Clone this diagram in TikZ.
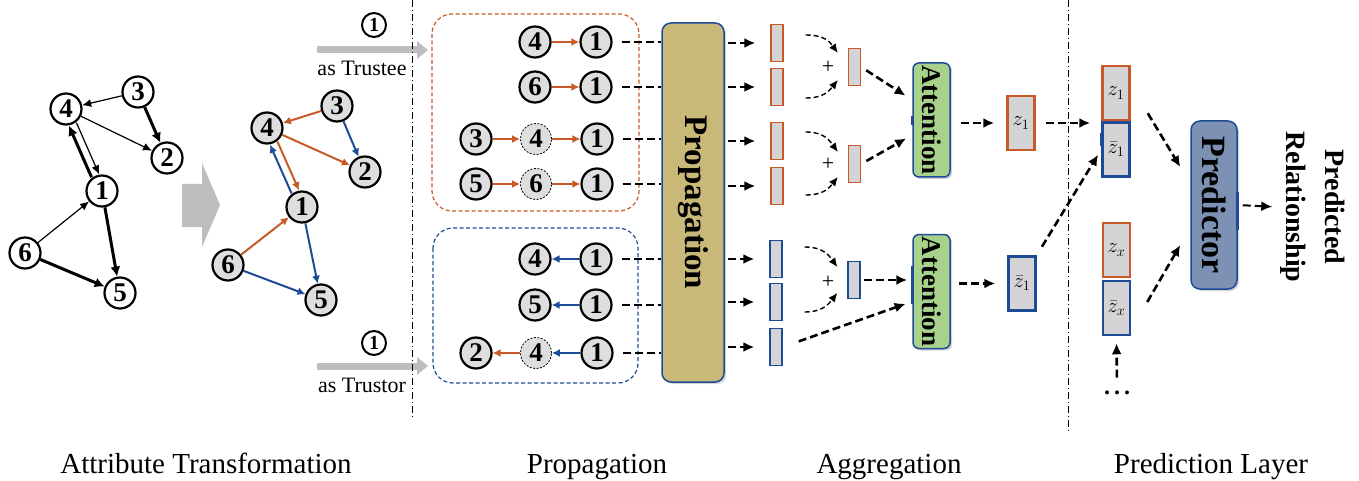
\documentclass[tikz,border=0pt]{standalone}
\usepackage{fontspec}
\setmainfont{Liberation Serif}
\usetikzlibrary{arrows.meta,shadows,calc}
\definecolor{org}{RGB}{200,90,40}
\definecolor{blu}{RGB}{30,75,150}
\definecolor{cellgray}{RGB}{212,212,214}
\definecolor{nodegray}{RGB}{222,222,222}
\definecolor{propfill}{RGB}{200,185,120}
\definecolor{attfill}{RGB}{168,210,140}
\definecolor{predfill}{RGB}{125,145,180}
\definecolor{bigarrow}{RGB}{190,190,192}
\begin{document}
\begin{tikzpicture}[x=1pt,y=-1pt,
  wn/.style={circle,draw,line width=2.2pt,fill=white,minimum size=31pt,inner sep=0pt,font=\fontsize{27}{27}\selectfont\bfseries},
  gn/.style={wn,fill=nodegray},
  dn/.style={circle,draw,dashed,dash pattern=on 2pt off 1.5pt,line width=0.8pt,fill=nodegray,minimum size=31pt,inner sep=0pt,font=\fontsize{27}{27}\selectfont\bfseries},
  thinarr/.style={line width=1.2pt,-{Latex[length=9pt,width=8pt]}},
  thickarr/.style={line width=3pt,-{Latex[length=10pt,width=10pt]}},
  carr/.style={line width=2pt,-{Latex[length=8pt,width=8pt]}},
  dashline/.style={line width=2.6pt,dash pattern=on 8pt off 4pt},
  dasharr/.style={dashline,-{Latex[length=11pt,width=10pt]}},
  curvearr/.style={line width=1.4pt,dash pattern=on 5pt off 3pt,-{Latex[length=9pt,width=8pt]}},
  bar/.style={rectangle,draw,line width=1.3pt,fill=cellgray,minimum width=12pt,minimum height=37pt,inner sep=0pt},
  zbox/.style={rectangle,draw,line width=2.5pt,fill=cellgray,minimum width=27pt,minimum height=54pt,inner sep=0pt,font=\fontsize{20}{20}\selectfont},
  shad/.style={drop shadow={shadow xshift=2pt,shadow yshift=-2pt,opacity=0.35}},
  cnum/.style={circle,draw,line width=2pt,minimum size=24pt,inner sep=0pt,font=\fontsize{20}{20}\selectfont\bfseries},
  grayarr/.style={line width=7pt,bigarrow,-{Triangle[length=11pt,width=17pt]}},
  lbl/.style={font=\fontsize{29}{29}\selectfont,anchor=base},
  dashdot/.style={line width=0.8pt,dash pattern=on 7pt off 3pt on 1pt off 3pt}
]
\useasboundingbox (0,0) rectangle (1359,481);

% ---------------- left graph ----------------
\node[wn] (l4) at (66,109) {4};
\node[wn] (l3) at (138,92) {3};
\node[wn] (l2) at (167,158) {2};
\node[wn] (l1) at (102,191) {1};
\node[wn] (l6) at (25,253) {6};
\node[wn] (l5) at (120,293) {5};
\draw[thinarr] (l3) -- (l4);
\draw[thickarr] (l3) -- (l2);
\draw[thinarr] (l4) -- (l2);
\draw[thinarr,transform canvas={shift={(3.8,-1.4)}}] (l4) -- (l1);
\draw[thickarr,transform canvas={shift={(-3.8,1.4)}}] (l1) -- (l4);
\draw[thinarr] (l6) -- (l1);
\draw[thickarr] (l1) -- (l5);
\draw[thickarr] (l6) -- (l5);

% big chevron
\fill[bigarrow] (182,184) -- (202,184) -- (202,163) -- (220,205) -- (202,247) -- (202,227) -- (182,227) -- cycle;

% ---------------- right graph ----------------
\node[gn] (r4) at (267,128) {4};
\node[gn] (r3) at (337,106) {3};
\node[gn] (r2) at (365,172) {2};
\node[gn] (r1) at (302,207) {1};
\node[gn] (r6) at (228,265) {6};
\node[gn] (r5) at (321,300) {5};
\draw[carr,org] (r3) -- (r4);
\draw[carr,blu] (r3) -- (r2);
\draw[carr,org] (r4) -- (r2);
\draw[carr,org,transform canvas={shift={(3.7,-1.6)}}] (r4) -- (r1);
\draw[carr,blu,transform canvas={shift={(-3.7,1.6)}}] (r1) -- (r4);
\draw[carr,org] (r6) -- (r1);
\draw[carr,blu] (r1) -- (r5);
\draw[carr,blu] (r6) -- (r5);

% ---------------- trustee / trustor arrows ----------------
\node[cnum] (ct) at (374,25) {1};
\coordinate (gta) at (317,50);
\coordinate (gtb) at (428,50);
\draw[grayarr] (gta) -- (gtb);
\node[font=\fontsize{22}{22}\selectfont,anchor=base] (tee) at (362,76) {as Trustee};
\node[cnum] (cr) at (374,343) {1};
\coordinate (gra) at (317,366);
\coordinate (grb) at (428,366);
\draw[grayarr] (gra) -- (grb);
\node[font=\fontsize{22}{22}\selectfont,anchor=base] (tor) at (362,392) {as Trustor};

% dash-dot separators
\coordinate (sepAt) at (412,0);
\coordinate (sepAb) at (412,420);
\coordinate (sepBt) at (1068,0);
\coordinate (sepBb) at (1068,433);
\draw[dashdot] (sepAt) -- (sepAb);
\draw[dashdot] (sepBt) -- (sepBb);

% dashed group boxes
\draw[org,line width=1.2pt,dash pattern=on 4pt off 2.5pt,rounded corners=20pt] (432,14) rectangle (639,211);
\draw[blu,line width=1.2pt,dash pattern=on 4pt off 2.5pt,rounded corners=20pt] (433,228) rectangle (638,383);

% ---------------- chains ----------------
\node[gn] (a1b) at (535,42) {4};
\node[gn] (a1c) at (596,42) {1};
\draw[carr,org] (a1b) -- (a1c);
\node[gn] (a2b) at (535,87) {6};
\node[gn] (a2c) at (596,87) {1};
\draw[carr,org] (a2b) -- (a2c);
\node[gn] (a3a) at (476,139) {3};
\node[dn] (a3b) at (536,139) {4};
\node[gn] (a3c) at (597,139) {1};
\draw[carr,org] (a3a) -- (a3b);
\draw[carr,org] (a3b) -- (a3c);
\node[gn] (a4a) at (476,184) {5};
\node[dn] (a4b) at (536,184) {6};
\node[gn] (a4c) at (597,184) {1};
\draw[carr,org] (a4a) -- (a4b);
\draw[carr,org] (a4b) -- (a4c);
\node[gn] (b1b) at (535,259) {4};
\node[gn] (b1c) at (596,259) {1};
\draw[carr,blu] (b1c) -- (b1b);
\node[gn] (b2b) at (535,305) {5};
\node[gn] (b2c) at (596,305) {1};
\draw[carr,blu] (b2c) -- (b2b);
\node[gn] (b3a) at (476,353) {2};
\node[dn] (b3b) at (536,353) {4};
\node[gn] (b3c) at (597,353) {1};
\draw[carr,blu] (b3c) -- (b3b);
\draw[carr,org] (b3b) -- (b3a);

% ---------------- propagation ----------------
\node[rectangle,rounded corners=9pt,draw=blu,line width=1.5pt,fill=propfill,minimum width=62pt,minimum height=359pt,shad] (prop) at (693,202.5) {};
\node[rotate=-90,font=\fontsize{33}{33}\selectfont\bfseries] (proptxt) at (prop.center) {Propagation};

% bars
\node[bar,draw=org] (o1) at (777,43) {};
\node[bar,draw=org] (o2) at (777,87) {};
\node[bar,draw=org] (o3) at (777,141) {};
\node[bar,draw=org] (o4) at (777,186) {};
\node[bar,draw=blu] (u1) at (776,259) {};
\node[bar,draw=blu] (u2) at (776,302) {};
\node[bar,draw=blu] (u3) at (776,347) {};

% inputs into propagation and outputs
\foreach \c/\o in {a1c/o1,a2c/o2,a3c/o3,a4c/o4,b1c/u1,b2c/u2,b3c/u3}{
  \draw[dashline,shorten <=9pt] (\c.east) -- (prop.west |- \c.east);
  \draw[dasharr,shorten <=3pt,shorten >=15pt] (prop.east |- \o.west) -- (\o.west);
}

% summed bars
\node[bar,draw=org] (s1) at (854.5,67) {};
\node[bar,draw=org] (s2) at (854.5,164) {};
\node[bar,draw=blu] (s3) at (854,280) {};

% curved arrows
\draw[curvearr] ([shift={(22,-8)}]o1.east) .. controls +(19,0) and +(-8,-11) .. ([shift={(-10,-14)}]s1.west);
\draw[curvearr] ([shift={(22,11)}]o2.east) .. controls +(19,0) and +(-8,10) .. ([shift={(-10,13)}]s1.west);
\node[font=\fontsize{22}{22}\selectfont] (p1) at (828,67) {+};
\draw[curvearr] ([shift={(22,-9)}]o3.east) .. controls +(19,0) and +(-8,-11) .. ([shift={(-10,-12)}]s2.west);
\draw[curvearr] ([shift={(22,9)}]o4.east) .. controls +(19,0) and +(-8,10) .. ([shift={(-10,13)}]s2.west);
\node[font=\fontsize{22}{22}\selectfont] (p2) at (828,164) {+};
\draw[curvearr] ([shift={(22,-12)}]u1.east) .. controls +(19,0) and +(-8,-11) .. ([shift={(-10,-13)}]s3.west);
\draw[curvearr] ([shift={(22,10)}]u2.east) .. controls +(19,0) and +(-8,10) .. ([shift={(-10,13)}]s3.west);
\node[font=\fontsize{22}{22}\selectfont] (p3) at (828,282) {+};

% attention
\node[rectangle,rounded corners=6pt,draw=blu,line width=1.5pt,fill=attfill,minimum width=37pt,minimum height=114pt,shad] (att1) at (931.5,120) {};
\node[rotate=-90,font=\fontsize{27}{27}\selectfont\bfseries] (att1t) at (att1.center) {Attention};
\node[rectangle,rounded corners=6pt,draw=blu,line width=1.5pt,fill=attfill,minimum width=37pt,minimum height=114pt,shad] (att2) at (931.5,291.5) {};
\node[rotate=-90,font=\fontsize{27}{27}\selectfont\bfseries] (att2t) at (att2.center) {Attention};
\draw[blu,line width=3pt] ($(att1.west)+(0,-4)$) -- ($(att1.west)+(0,5)$);
\draw[blu,line width=3pt] ($(att2.west)+(0,-26)$) -- ($(att2.west)+(0,12)$);

\draw[dasharr,shorten <=6pt,shorten >=8pt] (s1.east) -- ($(att1.west)+(0,-20)$);
\draw[dasharr,shorten <=6pt,shorten >=7pt] (s2.east) -- ($(att1.west)+(0,15)$);
\draw[dasharr,shorten <=3pt,shorten >=5pt] (s3.east) -- ($(att2.west)+(0,-11.5)$);
\draw[dasharr,shorten <=17pt,shorten >=7pt] (u3.east) -- ($(att2.west)+(0,10)$);

% z boxes
\node[zbox,draw=org] (z1) at (1021,123) {$z_1$};
\node[zbox,draw=blu] (zb1) at (1022,283.5) {$\bar z_1$};
\draw[dasharr,shorten <=10pt,shorten >=12pt] (att1.east |- z1.west) -- (z1.west);
\draw[dasharr,shorten <=8pt,shorten >=12pt] (att2.east |- zb1.west) -- (zb1.west);

% concatenated boxes
\node[zbox,draw=org] (cz1) at (1116,93) {$z_1$};
\node[zbox,draw=blu] (czb1) at (1116,149.5) {$\bar z_1$};
\node[zbox,draw=org] (czx) at (1116.5,250) {$z_x$};
\node[zbox,draw=blu] (czbx) at (1116.5,308) {$\bar z_x$};
\draw[blu,line width=3pt] ($(czb1.west)+(0,-16)$) -- ($(czb1.west)+(0,-3)$);

\draw[dasharr,shorten <=10pt,shorten >=11pt] (z1.east) -- (z1.east -| czb1.west);
\draw[dasharr,shorten <=10pt,shorten >=6pt] (zb1.north east) -- (czb1.west);

% predictor
\node[rectangle,rounded corners=9pt,draw=blu,line width=1.5pt,fill=predfill,minimum width=46pt,minimum height=168pt,shad] (pred) at (1214,205) {};
\node[rotate=-90,font=\fontsize{34}{34}\selectfont\bfseries] (predt) at (pred.center) {Predictor};
\draw[blu,line width=3pt] ($(pred.east)+(0,-13)$) -- ($(pred.east)+(0,25)$);

\draw[dasharr] ($(cz1.south east)+(17,-8)$) -- ($(pred.west)+(-10,-38)$);
\draw[dasharr] ($(czbx.east)+(16,-6)$) -- ($(pred.west)+(-10,40)$);

\node[font=\fontsize{24}{24}\selectfont\bfseries] (dots) at (1117,393) {.\,.\,.};
\draw[dasharr,shorten <=10pt,shorten >=7pt] (dots.north) -- (czbx.south);

\node[rotate=-90,align=center,font=\fontsize{28}{39}\selectfont\bfseries] (predrel) at (1313,207) {Predicted\\Relationship};
\draw[dasharr,line width=2pt,shorten <=5pt,shorten >=5pt] (pred.east) -- (predrel.south);

% bottom labels
\node[lbl] (t1) at (206,473) {Attribute Transformation};
\node[lbl] (t2) at (597,473) {Propagation};
\node[lbl] (t3) at (889,473) {Aggregation};
\node[lbl] (t4) at (1211,473) {Prediction Layer};
\end{tikzpicture}
\end{document}
